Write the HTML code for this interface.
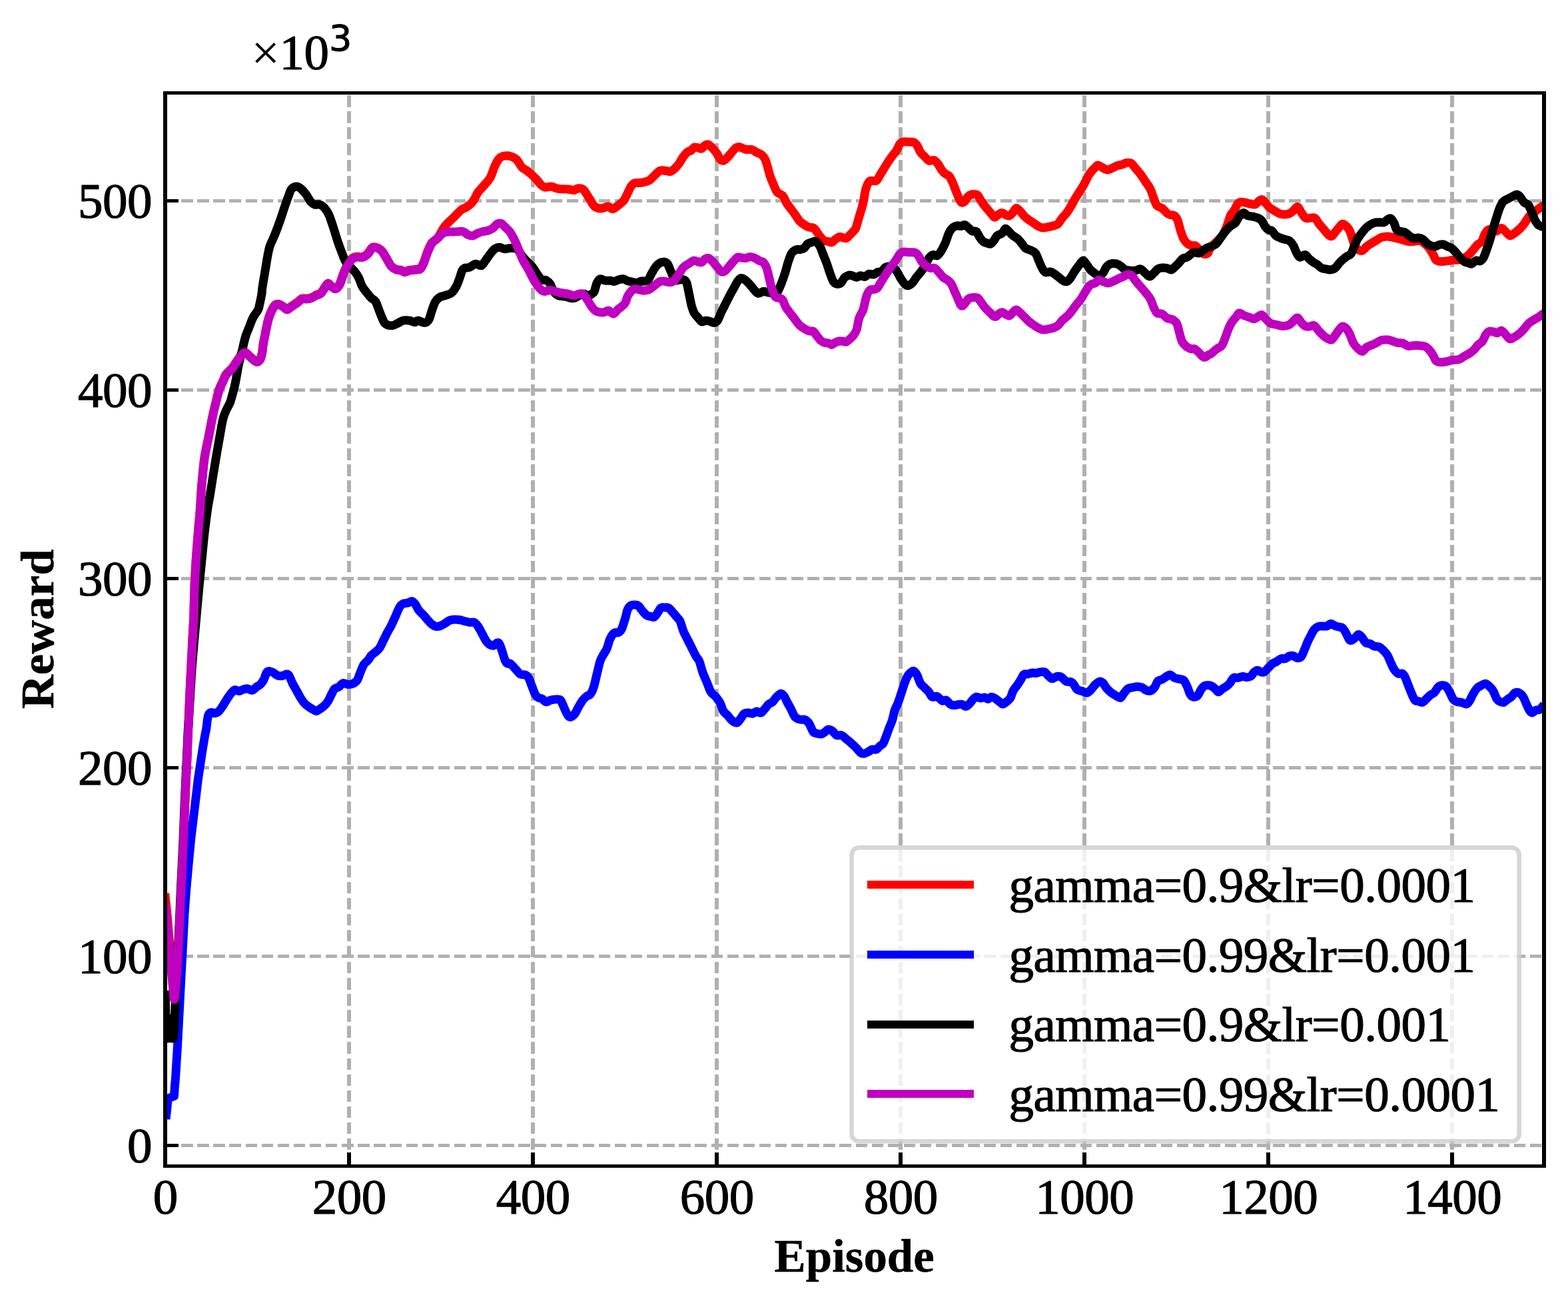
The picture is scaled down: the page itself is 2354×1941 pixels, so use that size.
<!DOCTYPE html>
<html><head><meta charset="utf-8"><title>Reward</title>
<style>html,body{margin:0;padding:0;background:#fff;overflow:hidden}svg{display:block}</style>
</head><body>
<svg width="2354" height="1941" viewBox="0 0 2354 1941">
<rect width="2354" height="1941" fill="#fff"/>
<g stroke="#b0b0b0" stroke-dasharray="17.4 6.69" fill="none" shape-rendering="crispEdges">
<g stroke-width="6">
<line x1="524" y1="1750.5" x2="524" y2="139.5"/>
<line x1="800" y1="1750.5" x2="800" y2="139.5"/>
<line x1="1076" y1="1750.5" x2="1076" y2="139.5"/>
<line x1="1352" y1="1750.5" x2="1352" y2="139.5"/>
<line x1="1628" y1="1750.5" x2="1628" y2="139.5"/>
<line x1="1904" y1="1750.5" x2="1904" y2="139.5"/>
<line x1="2180" y1="1750.5" x2="2180" y2="139.5"/>
</g><g stroke-width="5" stroke-dasharray="17.4 6.706">
<line x1="248.0" y1="1719.5" x2="2318.0" y2="1719.5"/>
<line x1="248.0" y1="1435.9" x2="2318.0" y2="1435.9"/>
<line x1="248.0" y1="1152.3" x2="2318.0" y2="1152.3"/>
<line x1="248.0" y1="868.7" x2="2318.0" y2="868.7"/>
<line x1="248.0" y1="585.1" x2="2318.0" y2="585.1"/>
<line x1="248.0" y1="301.5" x2="2318.0" y2="301.5"/>
</g></g>
<g stroke="#000" stroke-width="6" shape-rendering="crispEdges">
<line x1="248" y1="1750.5" x2="248" y2="1730"/>
<line x1="524" y1="1750.5" x2="524" y2="1730"/>
<line x1="800" y1="1750.5" x2="800" y2="1730"/>
<line x1="1076" y1="1750.5" x2="1076" y2="1730"/>
<line x1="1352" y1="1750.5" x2="1352" y2="1730"/>
<line x1="1628" y1="1750.5" x2="1628" y2="1730"/>
<line x1="1904" y1="1750.5" x2="1904" y2="1730"/>
<line x1="2180" y1="1750.5" x2="2180" y2="1730"/>
</g><g stroke="#000" stroke-width="5" shape-rendering="crispEdges">
<line x1="248.0" y1="1719.5" x2="268" y2="1719.5"/>
<line x1="248.0" y1="1435.9" x2="268" y2="1435.9"/>
<line x1="248.0" y1="1152.3" x2="268" y2="1152.3"/>
<line x1="248.0" y1="868.7" x2="268" y2="868.7"/>
<line x1="248.0" y1="585.1" x2="268" y2="585.1"/>
<line x1="248.0" y1="301.5" x2="268" y2="301.5"/>
</g>
<clipPath id="c"><rect x="248.0" y="139.5" width="2070.0" height="1611.0"/></clipPath>
<g clip-path="url(#c)" fill="none" stroke-width="13" stroke-linejoin="round" stroke-linecap="butt">
<path d="M247.6,1341L251.1,1374L253.9,1408L255.2,1421.6L259.3,1474L260.7,1492L261.4,1499.5L262.5,1497L264.4,1478L265.9,1459L267.2,1440L267.9,1425L268.6,1412L270.4,1374L272,1336L273.9,1298L275.7,1260L277.7,1209L279.4,1171L281.3,1133L282.5,1094.2L284.6,1043.2L286.5,1005.2L288.4,967.2L290.5,929.2L292,878.2L294.1,840.2L297,802.2L300.3,764.2C301.1,754.1 301,750.3 301.6,741.8C302.2,733.3 303.1,722.8 304,713.3C304.9,703.8 305.7,694.3 307.2,684.8C308.7,675.3 311,665.7 312.9,656.2C314.8,646.7 316.6,636.4 318.4,627.7C320.2,619 322,611.5 323.8,604.2C325.6,597 327.2,589.7 329.1,584.2C330.9,578.7 333.3,574.9 334.9,571.3C336.5,567.7 337.4,565 338.7,562.8C340,560.6 341.2,559.8 342.9,558C344.5,556.2 346.7,554.7 348.6,552.3C350.5,549.9 352.4,546.6 354.3,543.8C356.2,541 358.2,538.1 360,535.7C361.8,533.3 363.2,530.5 364.8,529.5C366.4,528.5 367.9,528.7 369.5,529.5C371.1,530.3 372.7,532.8 374.3,534.3C375.9,535.8 377.3,537.1 379.1,538.5C380.9,539.9 383.3,542.7 385.2,542.8C387.1,542.9 389.1,541.2 390.5,539C391.9,536.8 392.5,533.5 393.3,529.5C394.1,525.5 394.4,520 395.2,515.2C396,510.5 397.1,505.8 398.1,501C399,496.2 399.9,491.1 400.9,486.7C401.9,482.3 402.9,478.1 404.2,474.4C405.5,470.7 407,467.2 408.5,464.4C410,461.5 411.7,458.6 413.3,457.3C414.9,456 416.1,455.9 418,456.3C419.9,456.7 422.6,458.4 424.7,459.7C426.8,461 428.8,464 430.7,464.2C432.6,464.4 434.2,461.9 436.1,460.7C437.9,459.5 439.9,458.1 441.8,456.8C443.7,455.5 445.6,454.4 447.5,453C449.4,451.6 451,449 453.2,448.2C455.4,447.4 458.4,448.4 460.8,448.2C463.2,448 465.3,447.7 467.5,446.8C469.7,445.9 471.7,444.2 474.1,443C476.5,441.8 479.5,441.6 481.7,439.7C483.9,437.8 485.4,434.1 487.2,431.7C488.9,429.3 490.5,425.9 492.2,425.4C493.9,425 495.3,427.9 497.2,429.2C499.1,430.4 501.4,433.4 503.4,432.9C505.5,432.5 507.6,430.7 509.7,426.7C511.8,422.7 513.9,414.2 516,409.2C518,404.2 520.1,400.2 522.2,396.7C524.3,393.2 526.4,389.8 528.5,387.9C530.5,386.1 532,385.9 534.7,385.4C537.4,385 541.8,386.3 544.7,385.4C547.6,384.6 549.9,382.7 552.2,380.4C554.5,378.2 556.4,373.2 558.5,371.7C560.5,370.2 562.4,370.6 564.7,371.2C567,371.8 569.7,372.9 572.2,375.4C574.7,378 577.2,382.7 579.7,386.7C582.2,390.7 584.7,396.3 587.2,399.2C589.7,402.1 592.2,403.2 594.7,404.2C597.2,405.2 600.1,404.8 602.2,405.4C604.3,406.1 605.1,407.9 607.2,407.9C609.3,407.9 611.8,406.1 614.7,405.4C617.6,404.8 622,404.6 624.7,404.2C627.4,403.8 629.1,404.6 631,402.9C632.8,401.3 634.1,398.6 636,394.2C637.8,389.8 640.1,381.7 642.2,376.7C644.3,371.7 646,367.5 648.5,364.2C651,360.9 654,360.7 657.2,356.7C660.4,352.7 663.7,344.9 667.5,340C671.3,335.1 675.8,331.7 680,327.5C684.2,323.3 689.2,317.7 692.5,315C695.8,312.3 697.1,313.3 700,311.2C702.9,309.2 707.1,306.2 710,302.5C712.9,298.8 714.6,292.9 717.5,288.8C720.4,284.6 724.4,281.2 727.5,277.5C730.6,273.8 733.8,270.8 736.2,266.2C738.8,261.7 740.4,254.6 742.5,250C744.6,245.4 746.7,241.3 748.8,238.8C750.8,236.2 752.1,235.2 755,234.5C757.9,233.8 762.5,233.6 766,234.5C769.5,235.4 773.1,237.2 776,240C778.9,242.8 781,248.5 783.5,251.2C786,254 788.5,254.4 791,256.2C793.5,258.1 796,260.2 798.5,262.5C801,264.8 803.7,267.5 806,270C808.3,272.5 810.2,275.6 812.2,277.5C814.3,279.4 816,280.8 818.5,281.2C821,281.7 824.5,279.8 827.2,280C830,280.2 832.5,281.9 834.8,282.5C837,283.1 838.7,283.5 841,283.8C843.3,284 846,283.6 848.5,283.8C851,283.9 853.7,284.2 856,284.5C858.3,284.8 860.4,285.8 862.2,285.5C864.1,285.2 865.2,283.3 867.2,283C869.3,282.7 872.7,282.6 874.8,283.8C876.8,284.9 877.9,287.3 879.8,290C881.6,292.7 883.9,296.8 886,300C888.1,303.2 889.8,307.3 892.2,309.5C894.8,311.7 898.3,312.7 901,313C903.7,313.3 906.4,311.8 908.5,311.2C910.6,310.8 911.6,309.6 913.5,310C915.4,310.4 917.7,313.8 919.8,313.8C921.8,313.8 923.9,311.5 926,310C928.1,308.5 930.4,306.7 932.2,305C934.1,303.3 935.6,302.5 937.2,300C938.9,297.5 940.6,293.3 942.2,290C943.9,286.7 945.6,282.5 947.2,280C948.9,277.5 950,275.9 952.2,275C954.5,274.1 958.3,274.8 961,274.5C963.7,274.2 966,273.8 968.5,273C971,272.2 973.5,271.8 976,270C978.5,268.2 981,264.8 983.5,262.5C986,260.2 988.5,257.3 991,256.2C993.5,255.2 996,256 998.5,256.2C1001,256.5 1003.7,257.9 1006,257.5C1008.3,257.1 1010,255.8 1012.2,253.8C1014.5,251.7 1017.5,248.1 1019.8,245C1022,241.9 1023.9,237.8 1026,235C1028.1,232.2 1030.4,229.5 1032.2,228C1034.1,226.5 1035.6,227.4 1037.2,226.2C1038.9,225.1 1040.4,222 1042.2,221.2C1044.1,220.5 1046.6,221.7 1048.5,222C1050.4,222.3 1051.8,223.7 1053.5,223C1055.2,222.3 1056.8,219 1058.5,218C1060.2,217 1061.6,216.2 1063.5,217C1065.4,217.8 1067.7,220.3 1069.8,222.5C1071.8,224.7 1074.1,227.3 1076,230C1077.9,232.7 1079.3,236.9 1081,238.8C1082.7,240.6 1084.3,241.5 1086,241.2C1087.7,241 1088.9,239.6 1091,237.5C1093.1,235.4 1096.2,231.3 1098.5,228.8C1100.8,226.2 1102.9,223.4 1104.8,222C1106.6,220.6 1107.9,220.3 1109.8,220.5C1111.6,220.7 1114.1,222.3 1116,223C1117.9,223.7 1118.9,224.2 1121,224.5C1123.1,224.8 1126,223.8 1128.5,224.5C1131,225.2 1133.5,227.4 1136,228.8C1138.5,230.1 1141.4,230.8 1143.5,232.5C1145.6,234.2 1147,235.8 1148.5,238.8C1150,241.7 1151,245.8 1152.2,250C1153.5,254.2 1154.5,259.4 1156,263.8C1157.5,268.1 1159.3,272.3 1161,276.2C1162.7,280.2 1164.3,285 1166,287.5C1167.7,290 1169.3,290 1171,291.2C1172.7,292.5 1174.3,292.7 1176,295C1177.7,297.3 1178.9,301.7 1181,305C1183.1,308.3 1186.2,311.9 1188.5,315C1190.8,318.1 1192.7,320.8 1194.8,323.8C1196.8,326.7 1198.7,330.1 1201,332.5C1203.3,334.9 1206.2,336.5 1208.5,338C1210.8,339.5 1212.7,340.6 1214.8,341.2C1216.8,341.9 1219.1,341 1221,342C1222.9,343 1224.3,345.3 1226,347.5C1227.7,349.7 1229.1,352.7 1231,355C1232.9,357.3 1235.2,360 1237.2,361.2C1239.3,362.5 1241.6,362.1 1243.5,362.5C1245.4,362.9 1246.6,364.4 1248.5,363.8C1250.4,363.1 1252.7,360.1 1254.8,358.8C1256.8,357.4 1259.1,355.8 1261,355.5C1262.9,355.2 1264.3,356.7 1266,357C1267.7,357.3 1269.3,358.2 1271,357.5C1272.7,356.8 1274.3,354.2 1276,352.5C1277.7,350.8 1279.5,349.2 1281,347.5C1282.5,345.8 1283.5,345.4 1284.8,342.5C1286,339.6 1286.7,336.2 1288.5,330C1290.3,323.8 1293.9,312.5 1295.8,305C1297.6,297.5 1298,290.3 1299.5,285C1301,279.7 1302.8,275.3 1304.5,273C1306.2,270.7 1307.6,271.5 1309.5,271.2C1311.4,271 1313.7,272.9 1315.8,271.2C1317.8,269.6 1319.9,264.6 1322,261.2C1324.1,257.9 1326.2,254.6 1328.2,251.2C1330.3,247.9 1332.4,244.4 1334.5,241.2C1336.6,238.1 1338.9,235 1340.8,232.5C1342.6,230 1344.1,229 1345.8,226.2C1347.4,223.5 1349.1,218.5 1350.8,216.2C1352.4,214 1353.7,213.5 1355.8,213C1357.8,212.5 1360.5,212.9 1363.2,213C1366,213.1 1369.7,212.8 1372,213.8C1374.3,214.7 1375.3,216.2 1377,218.8C1378.7,221.2 1380.1,226 1382,228.8C1383.9,231.5 1386.2,232.9 1388.2,235C1390.3,237.1 1392.2,240.3 1394.5,241.2C1396.8,242.2 1399.7,239.7 1402,240.5C1404.3,241.3 1406.2,243.6 1408.2,246.2C1410.3,248.9 1412.6,253.8 1414.5,256.2C1416.4,258.8 1417.8,260 1419.5,261.2C1421.2,262.5 1422.8,261.9 1424.5,263.8C1426.2,265.6 1427.8,269 1429.5,272.5C1431.2,276 1432.8,280.8 1434.5,285C1436.2,289.2 1438,294.4 1439.5,297.5C1441,300.6 1441.8,302.9 1443.2,303.8C1444.7,304.6 1446.6,304 1448.2,302.5C1449.9,301 1451.6,296.8 1453.2,295C1454.9,293.2 1456,292.4 1458.2,292C1460.5,291.6 1464.7,291.2 1467,292.5C1469.3,293.8 1470.3,297.5 1472,300C1473.7,302.5 1475.1,305 1477,307.5C1478.9,310 1481.2,312.5 1483.2,315C1485.3,317.5 1487.8,320.6 1489.5,322.5C1491.2,324.4 1491.8,326.2 1493.2,326.2C1494.7,326.2 1496.4,323.6 1498.2,322.5C1500.1,321.4 1502.4,319.4 1504.5,319.5C1506.6,319.6 1508.9,322.3 1510.8,323C1512.6,323.7 1514.1,324.5 1515.8,323.8C1517.4,323 1519.1,320.6 1520.8,318.8C1522.4,316.9 1523.9,312.7 1525.8,312.5C1527.6,312.3 1529.9,315.4 1532,317.5C1534.1,319.6 1536.2,322.9 1538.2,325C1540.3,327.1 1542.2,328.3 1544.5,330C1546.8,331.7 1549.5,333.3 1552,335C1554.5,336.7 1557.2,338.8 1559.5,340C1561.8,341.2 1563.2,341.9 1565.8,342C1568.2,342.1 1571.8,341 1574.5,340.5C1577.2,340 1579.7,339.5 1582,338.8C1584.3,338 1586.2,338.1 1588.2,336.2C1590.3,334.4 1592.2,330.4 1594.5,327.5C1596.8,324.6 1599.7,321.9 1602,318.8C1604.3,315.6 1606.2,312.3 1608.2,308.8C1610.3,305.2 1612.4,301 1614.5,297.5C1616.6,294 1618.7,290.8 1620.8,287.5C1622.8,284.2 1624.9,281.2 1627,277.5C1629.1,273.8 1631.2,268.5 1633.2,265C1635.3,261.5 1637.6,258.5 1639.5,256.2C1641.4,254 1643,252.6 1644.5,251.2C1646,249.9 1646.6,248 1648.2,248C1649.9,248 1652.2,250.1 1654.5,251.2C1656.8,252.4 1659.5,254.8 1662,255C1664.5,255.2 1667,253.5 1669.5,252.5C1672,251.5 1674.5,249.7 1677,248.8C1679.5,247.8 1682.2,247.7 1684.5,247C1686.8,246.3 1688.5,244.8 1690.8,244.5C1693,244.2 1696,243.7 1698.2,245C1700.5,246.3 1702.2,249.8 1704.5,252.5C1706.8,255.2 1709.5,257.9 1712,261.2C1714.5,264.6 1717,268.8 1719.5,272.5C1722,276.2 1724.9,279.6 1727,283.8C1729.1,287.9 1730.3,293.3 1732,297.5C1733.7,301.7 1734.9,306.2 1737,308.8C1739.1,311.2 1742,310.6 1744.5,312.5C1747,314.4 1749.9,318.3 1752,320C1754.1,321.7 1755.1,321.9 1757,322.5C1758.9,323.1 1761.4,322.3 1763.2,323.8C1765.1,325.2 1766.8,327.7 1768.2,331.2C1769.7,334.8 1770.5,340.4 1772,345C1773.5,349.6 1775.1,355.2 1777,358.8C1778.9,362.3 1781.2,364.6 1783.2,366.2C1785.3,367.9 1787.6,368.3 1789.5,368.8C1791.4,369.2 1792.6,367.7 1794.5,368.8C1796.4,369.8 1798.7,372.9 1800.8,375C1802.8,377.1 1804.9,380.4 1807,381.2C1809.1,382.1 1811.8,381.2 1813.2,380C1814.8,378.8 1814.3,376.4 1816,374C1817.7,371.6 1821.2,367.9 1823.5,365.5C1825.8,363.1 1827.7,361.8 1829.8,359.5C1831.8,357.2 1833.9,355.5 1836,352C1838.1,348.5 1840.4,343.2 1842.2,338.5C1844.1,333.8 1845.5,327.3 1847.2,323.5C1849,319.7 1851,318.7 1853,315.5C1855,312.3 1857,306.5 1859.5,304.5C1862,302.5 1865.3,303.5 1868,303.8C1870.7,304 1872.8,305.2 1875.5,305.8C1878.2,306.3 1882,307.5 1884.2,307C1886.5,306.5 1887.6,303.8 1889.2,302.5C1890.9,301.2 1892.6,299.3 1894.2,299.5C1895.9,299.7 1897.4,301.8 1899.2,303.8C1901.1,305.7 1903.2,309.2 1905.5,311.2C1907.8,313.3 1910.5,314.7 1913,316.2C1915.5,317.8 1918,319.5 1920.5,320.5C1923,321.5 1925.5,322 1928,322C1930.5,322 1933.2,321.7 1935.5,320.8C1937.8,319.8 1939.7,318 1941.8,316.2C1943.8,314.5 1945.9,309.9 1948,310.5C1950.1,311.1 1952.2,317.2 1954.2,320C1956.3,322.8 1958.2,326.3 1960.5,327.5C1962.8,328.7 1965.7,327 1968,327C1970.3,327 1972.2,326 1974.2,327.5C1976.3,329 1978.2,333.3 1980.5,336.2C1982.8,339.2 1985.7,342.3 1988,345C1990.3,347.7 1992.4,350.9 1994.2,352.5C1996.1,354.1 1997.6,355.1 1999.2,354.5C2000.9,353.9 2002.4,351 2004.2,348.8C2006.1,346.5 2008.6,343.3 2010.5,341.2C2012.4,339.2 2013.6,336.5 2015.5,336.2C2017.4,336 2019.9,338.1 2021.8,340C2023.6,341.9 2025.3,344.4 2026.8,347.5C2028.2,350.6 2029.2,355 2030.5,358.8C2031.8,362.5 2032.8,367.3 2034.2,370C2035.7,372.7 2037.4,374 2039.2,375C2041.1,376 2043.4,377.1 2045.5,376.2C2047.6,375.4 2049.5,371.9 2051.8,370C2054,368.1 2056.8,366.6 2059.2,365C2061.8,363.4 2064.2,362 2066.8,360.5C2069.2,359 2071.5,357.2 2074.2,356.2C2077,355.3 2080.3,355 2083,355C2085.7,355 2088,355.8 2090.5,356.2C2093,356.8 2095.5,357.4 2098,358C2100.5,358.6 2102.8,359.2 2105.5,360C2108.2,360.8 2111.5,362.1 2114.2,362.5C2117,362.9 2119,362.7 2121.8,362.5C2124.5,362.3 2127.8,360.8 2130.5,361.2C2133.2,361.7 2135.5,363.1 2138,365C2140.5,366.9 2143.2,369.6 2145.5,372.5C2147.8,375.4 2150.1,379.6 2151.8,382.5C2153.4,385.4 2153.8,388.3 2155.5,390C2157.2,391.7 2159.2,392.2 2161.8,392.5C2164.2,392.8 2167.4,392.3 2170.5,392C2173.6,391.7 2177.2,390.8 2180.5,390.5C2183.8,390.2 2187.6,390.5 2190.5,390C2193.4,389.5 2195.5,388.8 2198,387.5C2200.5,386.2 2203.2,384.1 2205.5,382C2207.8,379.9 2209.7,377.4 2211.8,375C2213.8,372.6 2215.9,369.6 2218,367.5C2220.1,365.4 2222.4,365.2 2224.2,362.5C2226.1,359.8 2227.6,354.2 2229.2,351.2C2230.9,348.3 2232.4,346 2234.2,345C2236.1,344 2238.4,344.7 2240.5,345C2242.6,345.3 2244.5,347.4 2246.8,347C2249,346.6 2252,342.3 2254.2,342.5C2256.5,342.7 2258.4,346.1 2260.5,348C2262.6,349.9 2264.7,353.3 2266.8,353.8C2268.8,354.2 2270.7,352 2273,350.5C2275.3,349 2278,346.9 2280.5,344.5C2283,342.1 2285.5,339.5 2288,336.2C2290.5,333 2293,327.9 2295.5,325C2298,322.1 2300.5,320.8 2303,318.8C2305.5,316.8 2308,314.9 2310.5,313C2313,311.1 2316.8,308.4 2318,307.5" stroke="#ff0000"/>
<path d="M249,1680L251,1662L252.2,1649L261.5,1645.5L262.3,1631L263.4,1620L266.5,1570.4L268.1,1540L272.7,1452L274.2,1425L276.8,1374L279.6,1336L283,1298L286.6,1260L292.7,1209L297.2,1171L302.9,1133C304.6,1122 306.4,1111.3 307.5,1105C308.6,1098.7 309,1098.8 309.6,1095C310.2,1091.2 310.6,1085.7 311.2,1082C311.8,1078.3 312.1,1074.7 313.2,1072.6C314.2,1070.5 315.9,1069.8 317.5,1069.5C319.1,1069.2 320.8,1071 322.7,1070.7C324.6,1070.4 326.7,1069.5 328.8,1067.5C330.8,1065.5 332.9,1061.9 335,1058.8C337.1,1055.6 339.2,1051.9 341.2,1048.8C343.3,1045.6 345.6,1042.2 347.5,1040C349.4,1037.8 350.6,1035.9 352.5,1035.5C354.4,1035.1 356.7,1037.6 358.8,1037.5C360.8,1037.4 362.9,1035.6 365,1035C367.1,1034.4 369,1033.5 371.2,1033.8C373.5,1034 376.5,1036.7 378.8,1036.2C381,1035.8 382.9,1032.8 385,1031.2C387.1,1029.7 389.4,1028.9 391.2,1027C393.1,1025.1 394.8,1022.8 396.2,1020C397.7,1017.2 398.8,1012.1 400,1010C401.2,1007.9 402.1,1007.6 403.8,1007.5C405.4,1007.4 407.9,1008.5 410,1009.5C412.1,1010.5 414,1012.9 416.2,1013.8C418.5,1014.6 421.5,1014.8 423.8,1014.5C426,1014.2 428.3,1012.1 430,1012C431.7,1011.9 432.3,1011.6 433.8,1013.8C435.2,1015.9 436.9,1021.2 438.8,1025C440.6,1028.8 442.9,1032.5 445,1036.2C447.1,1040 449.2,1044.2 451.2,1047.5C453.3,1050.8 455.4,1054 457.5,1056.2C459.6,1058.5 461.7,1059.8 463.8,1061.2C465.8,1062.7 468.1,1064 470,1065C471.9,1066 473.1,1067.7 475,1067.5C476.9,1067.3 479.2,1065.2 481.2,1063.8C483.3,1062.3 485.6,1060.6 487.5,1058.8C489.4,1056.9 490.8,1055.2 492.5,1052.5C494.2,1049.8 495.8,1045.6 497.5,1042.5C499.2,1039.4 500.6,1035.6 502.5,1033.8C504.4,1031.9 506.7,1032.6 508.8,1031.2C510.8,1029.9 512.7,1026.1 515,1025.5C517.3,1024.9 520,1027.4 522.5,1027.5C525,1027.6 527.7,1027.3 530,1026.2C532.3,1025.2 534.4,1024.2 536.2,1021.2C538.1,1018.3 539.6,1012.7 541.2,1008.8C542.9,1004.8 544.4,1000.4 546.2,997.5C548.1,994.6 550.6,993.5 552.5,991.2C554.4,989 555.6,985.8 557.5,983.8C559.4,981.7 561.7,980.6 563.8,978.8C565.8,976.9 568.1,975.2 570,972.5C571.9,969.8 573.1,966.2 575,962.5C576.9,958.8 579.2,954 581.2,950C583.3,946 585.4,942.9 587.5,938.8C589.6,934.6 591.7,929.6 593.8,925C595.8,920.4 598.1,914.4 600,911.2C601.9,908.1 602.9,907.3 605,906.2C607.1,905.2 610.2,905.6 612.5,905C614.8,904.4 616.9,902.1 618.8,902.5C620.6,902.9 622.1,905.2 623.8,907.5C625.4,909.8 626.7,913.5 628.8,916.2C630.8,919 634,921.2 636.2,923.8C638.5,926.2 640.4,929 642.5,931.2C644.6,933.5 646.7,936 648.8,937.5C650.8,939 652.9,940.2 655,940.5C657.1,940.8 659.2,940.2 661.2,939.5C663.3,938.8 665.2,937.6 667.5,936.2C669.8,934.9 672.5,932.3 675,931.2C677.5,930.2 680,930.1 682.5,930C685,929.9 687.5,930.1 690,930.5C692.5,930.9 695,931.9 697.5,932.5C700,933.1 702.5,933.9 705,934.2C707.5,934.6 710.4,933.5 712.5,934.5C714.6,935.5 715.6,937.2 717.5,940C719.4,942.8 721.7,947.5 723.8,951.2C725.8,955 728.1,959.8 730,962.5C731.9,965.2 733.1,966.4 735,967.5C736.9,968.6 739.4,969.7 741.2,969.2C743.1,968.8 744.8,965.4 746.2,965C747.7,964.6 748.8,964.9 750,967C751.2,969.1 752.3,973.2 753.8,977.5C755.2,981.8 757.3,989.4 758.8,992.5C760.2,995.6 761.3,995.6 762.5,996.2C763.7,996.9 764.2,995 766,996.2C767.8,997.5 771,1001.1 773.5,1003.8C776,1006.4 778.5,1010.5 781,1012C783.5,1013.5 786.4,1012.1 788.5,1013C790.6,1013.9 791.8,1014.7 793.5,1017.5C795.2,1020.3 796.8,1025.8 798.5,1030C800.2,1034.2 801.8,1039.6 803.5,1042.5C805.2,1045.4 806.8,1046.5 808.5,1047.5C810.2,1048.5 811.6,1047.7 813.5,1048.8C815.4,1049.8 817.7,1053.3 819.8,1053.8C821.8,1054.2 823.9,1051.9 826,1051.2C828.1,1050.6 829.8,1050.1 832.2,1050C834.8,1049.9 838.9,1049.2 841,1050.5C843.1,1051.8 843.3,1054.5 844.8,1057.5C846.2,1060.5 848.1,1065.6 849.8,1068.8C851.4,1071.9 852.7,1075.6 854.8,1076.2C856.8,1076.9 860,1075 862.2,1072.5C864.5,1070 866.4,1064.8 868.5,1061.2C870.6,1057.7 872.7,1054 874.8,1051.2C876.8,1048.5 879.1,1046.5 881,1045C882.9,1043.5 884.3,1044.6 886,1042.5C887.7,1040.4 889.3,1037.5 891,1032.5C892.7,1027.5 894.3,1019.2 896,1012.5C897.7,1005.8 899.3,997.5 901,992.5C902.7,987.5 904.3,985.6 906,982.5C907.7,979.4 909.3,977.7 911,973.8C912.7,969.8 914.1,962.7 916,958.8C917.9,954.8 920.2,951.5 922.2,950C924.3,948.5 926.6,950.5 928.5,949.5C930.4,948.5 931.8,947.2 933.5,943.8C935.2,940.3 937,933.5 938.5,928.8C940,924 940.8,918.3 942.2,915C943.7,911.7 945.4,909.9 947.2,908.8C949.1,907.6 951.6,907.9 953.5,908C955.4,908.1 956.6,907.9 958.5,909.5C960.4,911.1 962.7,915.1 964.8,917.5C966.8,919.9 968.9,922.4 971,923.8C973.1,925.1 975.4,925.1 977.2,925.5C979.1,925.9 980.6,927.2 982.2,926.2C983.9,925.3 985.6,922.3 987.2,920C988.9,917.7 990.4,913.8 992.2,912.5C994.1,911.2 996.6,912 998.5,912C1000.4,912 1001.6,911.4 1003.5,912.5C1005.4,913.6 1007.7,916.5 1009.8,918.8C1011.8,921 1014.1,924 1016,926.2C1017.9,928.5 1019.3,929 1021,932.5C1022.7,936 1024.1,942.9 1026,947.5C1027.9,952.1 1030.2,955.8 1032.2,960C1034.3,964.2 1036.4,968.3 1038.5,972.5C1040.6,976.7 1042.9,981.7 1044.8,985C1046.6,988.3 1048.1,988.5 1049.8,992.5C1051.4,996.5 1052.9,1003.5 1054.8,1008.8C1056.6,1014 1058.9,1018.8 1061,1023.8C1063.1,1028.8 1065,1035 1067.2,1038.8C1069.5,1042.5 1072.5,1043.5 1074.8,1046.2C1077,1049 1079.1,1051.5 1081,1055C1082.9,1058.5 1084.1,1064.4 1086,1067.5C1087.9,1070.6 1090.2,1071.5 1092.2,1073.8C1094.3,1076 1096.2,1079.4 1098.5,1081.2C1100.8,1083.1 1103.9,1085.2 1106,1085C1108.1,1084.8 1109.1,1082.3 1111,1080C1112.9,1077.7 1115.2,1072.9 1117.2,1071.2C1119.3,1069.6 1121.4,1070 1123.5,1070C1125.6,1070 1127.7,1071.6 1129.8,1071.2C1131.8,1070.9 1133.9,1068.2 1136,1068C1138.1,1067.8 1140.2,1070.7 1142.2,1070C1144.3,1069.3 1146.6,1065.8 1148.5,1063.8C1150.4,1061.7 1151.6,1059.2 1153.5,1057.5C1155.4,1055.8 1157.7,1055.6 1159.8,1053.8C1161.8,1051.9 1163.9,1048.3 1166,1046.2C1168.1,1044.2 1170.4,1041.5 1172.2,1041.2C1174.1,1041 1175.6,1042.7 1177.2,1045C1178.9,1047.3 1180.6,1051.9 1182.2,1055C1183.9,1058.1 1185.4,1060.2 1187.2,1063.8C1189.1,1067.3 1191.2,1073.5 1193.5,1076.2C1195.8,1079 1198.5,1079.3 1201,1080C1203.5,1080.7 1206.2,1079.5 1208.5,1080.5C1210.8,1081.5 1212.7,1083.2 1214.8,1086.2C1216.8,1089.3 1218.9,1096.2 1221,1098.8C1223.1,1101.2 1225.2,1100.7 1227.2,1101.2C1229.3,1101.8 1231.6,1102.4 1233.5,1102C1235.4,1101.6 1236.8,1099.9 1238.5,1098.8C1240.2,1097.6 1241.6,1095.2 1243.5,1095C1245.4,1094.8 1247.7,1096 1249.8,1097.5C1251.8,1099 1253.7,1102.7 1256,1103.8C1258.3,1104.8 1261.2,1102.9 1263.5,1103.8C1265.8,1104.6 1267.5,1106.9 1269.8,1108.8C1272,1110.6 1274.8,1112.8 1277.2,1115C1279.8,1117.2 1282.3,1119.5 1284.8,1122C1287.2,1124.5 1290,1128.5 1292,1130C1294,1131.5 1295.1,1131.5 1297,1131.2C1298.9,1131 1301.2,1129.8 1303.2,1128.8C1305.3,1127.7 1307.4,1125.6 1309.5,1125C1311.6,1124.4 1313.9,1125.8 1315.8,1125C1317.6,1124.2 1319.1,1121.5 1320.8,1120C1322.4,1118.5 1324.3,1118.3 1325.8,1116.2C1327.2,1114.2 1328,1111.2 1329.5,1107.5C1331,1103.8 1332.8,1098.1 1334.5,1093.8C1336.2,1089.4 1338,1085.8 1339.5,1081.2C1341,1076.7 1341.8,1070.6 1343.2,1066.2C1344.7,1061.9 1346.6,1059.4 1348.2,1055C1349.9,1050.6 1351.6,1045 1353.2,1040C1354.9,1035 1356.6,1029.4 1358.2,1025C1359.9,1020.6 1361.6,1016.5 1363.2,1013.8C1364.9,1011 1366.8,1009.8 1368.2,1008.8C1369.7,1007.7 1370.5,1006.7 1372,1007.5C1373.5,1008.3 1375.3,1010.6 1377,1013.8C1378.7,1016.9 1380.1,1023.1 1382,1026.2C1383.9,1029.4 1386.2,1030.4 1388.2,1032.5C1390.3,1034.6 1392.6,1036.5 1394.5,1038.8C1396.4,1041 1397.4,1045.1 1399.5,1046.2C1401.6,1047.4 1404.5,1044.5 1407,1045.5C1409.5,1046.5 1412.2,1051 1414.5,1052C1416.8,1053 1418.7,1050.3 1420.8,1051.2C1422.8,1052.2 1424.9,1056.2 1427,1057.5C1429.1,1058.8 1431.2,1058.8 1433.2,1058.8C1435.3,1058.8 1437.6,1057.7 1439.5,1057.5C1441.4,1057.3 1442.8,1057 1444.5,1057.5C1446.2,1058 1447.8,1060.5 1449.5,1060.5C1451.2,1060.5 1452.6,1059.2 1454.5,1057.5C1456.4,1055.8 1458.9,1051.9 1460.8,1050C1462.6,1048.1 1463.9,1046.6 1465.8,1046.2C1467.6,1045.9 1469.9,1047.9 1472,1048C1474.1,1048.1 1476.4,1046.8 1478.2,1047C1480.1,1047.2 1481.6,1049.6 1483.2,1049.5C1484.9,1049.4 1486.4,1046.4 1488.2,1046.2C1490.1,1046.1 1492.4,1047.5 1494.5,1048.8C1496.6,1050 1498.9,1052.4 1500.8,1053.8C1502.6,1055.1 1504.1,1057 1505.8,1057C1507.4,1057 1508.9,1055.3 1510.8,1053.8C1512.6,1052.2 1515.3,1050.2 1517,1047.5C1518.7,1044.8 1519.1,1040.6 1520.8,1037.5C1522.4,1034.4 1525.1,1031.5 1527,1028.8C1528.9,1026 1530.3,1024 1532,1021.2C1533.7,1018.5 1535.1,1014 1537,1012.5C1538.9,1011 1541.2,1012.4 1543.2,1012C1545.3,1011.6 1547.4,1010.2 1549.5,1010C1551.6,1009.8 1553.7,1010.7 1555.8,1010.5C1557.8,1010.3 1559.9,1009 1562,1008.8C1564.1,1008.5 1566.4,1007.9 1568.2,1008.8C1570.1,1009.6 1571.4,1012.1 1573.2,1013.8C1575.1,1015.4 1577.2,1018.5 1579.5,1018.8C1581.8,1019 1584.7,1015.9 1587,1015.5C1589.3,1015.1 1591,1015 1593.2,1016.2C1595.5,1017.5 1598.2,1021.8 1600.8,1023C1603.2,1024.2 1606.4,1023 1608.2,1023.8C1610.1,1024.5 1610.5,1025.6 1612,1027.5C1613.5,1029.4 1614.9,1033.3 1617,1035C1619.1,1036.7 1622,1036.7 1624.5,1037.5C1627,1038.3 1629.7,1040.4 1632,1040C1634.3,1039.6 1636.2,1037.1 1638.2,1035C1640.3,1032.9 1642.4,1029.5 1644.5,1027.5C1646.6,1025.5 1648.9,1023.7 1650.8,1023.2C1652.6,1022.8 1654.1,1023.5 1655.8,1025C1657.4,1026.5 1658.9,1030.2 1660.8,1032.5C1662.6,1034.8 1664.7,1036.9 1667,1038.8C1669.3,1040.6 1672,1042.3 1674.5,1043.8C1677,1045.2 1679.9,1047.9 1682,1047.5C1684.1,1047.1 1685.1,1043.5 1687,1041.2C1688.9,1039 1691,1035.3 1693.2,1033.8C1695.5,1032.2 1698.5,1032.5 1700.8,1032C1703,1031.5 1704.7,1030.8 1707,1030.8C1709.3,1030.8 1712.2,1031.1 1714.5,1032C1716.8,1032.9 1718.7,1035.4 1720.8,1036.2C1722.8,1037.1 1724.9,1037.7 1727,1037C1729.1,1036.3 1731.4,1034.4 1733.2,1032C1735.1,1029.6 1736.4,1024.5 1738.2,1022.5C1740.1,1020.5 1742.2,1021.2 1744.5,1020C1746.8,1018.8 1749.9,1016.2 1752,1015C1754.1,1013.8 1755.1,1012.6 1757,1013C1758.9,1013.4 1761,1016.4 1763.2,1017.5C1765.5,1018.6 1768.5,1018.9 1770.8,1019.5C1773,1020.1 1775.1,1019.5 1777,1021.2C1778.9,1023 1780.3,1026.5 1782,1030C1783.7,1033.5 1785.3,1039.8 1787,1042.5C1788.7,1045.2 1790.1,1046 1792,1046.2C1793.9,1046.5 1796.4,1045.6 1798.2,1043.8C1800.1,1041.9 1801.6,1037.4 1803.2,1035C1804.9,1032.6 1806.6,1030.5 1808.2,1029.5C1809.9,1028.5 1811.6,1028.8 1813.2,1028.8C1814.9,1028.8 1816.2,1028.7 1818,1029.5C1819.8,1030.3 1822.4,1032.2 1824.2,1033.8C1826.1,1035.3 1827.4,1038.8 1829.2,1038.8C1831.1,1038.8 1833.4,1035.2 1835.5,1033.8C1837.6,1032.3 1839.9,1031.5 1841.8,1030C1843.6,1028.5 1845.1,1027.1 1846.8,1025C1848.4,1022.9 1849.9,1018.8 1851.8,1017.5C1853.6,1016.2 1855.7,1017.8 1858,1017.5C1860.3,1017.2 1863.2,1015.6 1865.5,1015.5C1867.8,1015.4 1869.7,1016.8 1871.8,1016.8C1873.8,1016.7 1876.1,1016.3 1878,1015C1879.9,1013.7 1881.3,1010.2 1883,1008.8C1884.7,1007.3 1886.3,1006.2 1888,1006.2C1889.7,1006.2 1891.3,1008.3 1893,1008.8C1894.7,1009.2 1896.1,1009.8 1898,1008.8C1899.9,1007.7 1902.2,1004.6 1904.2,1002.5C1906.3,1000.4 1908.4,997.8 1910.5,996.2C1912.6,994.7 1914.7,994.2 1916.8,993C1918.8,991.8 1920.9,989.5 1923,988.8C1925.1,988 1927.2,989.4 1929.2,988.8C1931.3,988.1 1933.4,985.7 1935.5,985C1937.6,984.3 1939.9,984.1 1941.8,984.5C1943.6,984.9 1944.9,987.2 1946.8,987.5C1948.6,987.8 1951.1,988.1 1953,986.2C1954.9,984.4 1956.3,980 1958,976.2C1959.7,972.5 1961.3,967.5 1963,963.8C1964.7,960 1966.3,956.9 1968,953.8C1969.7,950.6 1971.1,947.2 1973,945C1974.9,942.8 1977.2,941.3 1979.2,940.5C1981.3,939.7 1983.4,940.1 1985.5,940C1987.6,939.9 1989.7,940.6 1991.8,940C1993.8,939.4 1995.9,936.3 1998,936.2C2000.1,936.2 2002.2,938.7 2004.2,939.5C2006.3,940.3 2008.6,940.8 2010.5,941.2C2012.4,941.8 2013.8,941 2015.5,942.5C2017.2,944 2018.8,947.1 2020.5,950C2022.2,952.9 2024,958.1 2025.5,960C2027,961.9 2027.8,961.7 2029.2,961.2C2030.7,960.8 2032.6,959 2034.2,957.5C2035.9,956 2037.6,952.7 2039.2,952.5C2040.9,952.3 2042.4,954.2 2044.2,956.2C2046.1,958.3 2048.4,963.3 2050.5,965C2052.6,966.7 2054.7,965.4 2056.8,966.2C2058.8,967.1 2060.7,969.2 2063,970C2065.3,970.8 2068.2,970.2 2070.5,971.2C2072.8,972.3 2074.7,974.2 2076.8,976.2C2078.8,978.3 2081.1,980.6 2083,983.8C2084.9,986.9 2086.3,991.5 2088,995C2089.7,998.5 2091.1,1002.3 2093,1005C2094.9,1007.7 2097.2,1010.2 2099.2,1011.2C2101.3,1012.3 2103.8,1010.4 2105.5,1011.2C2107.2,1012.1 2107.8,1013.3 2109.2,1016.2C2110.7,1019.2 2112.6,1024.6 2114.2,1028.8C2115.9,1032.9 2117.6,1037.5 2119.2,1041.2C2120.9,1045 2122.6,1049.4 2124.2,1051.2C2125.9,1053.1 2127.4,1052 2129.2,1052.5C2131.1,1053 2133.6,1054.9 2135.5,1054.5C2137.4,1054.1 2138.6,1051.8 2140.5,1050C2142.4,1048.2 2144.7,1045.4 2146.8,1043.8C2148.8,1042.1 2150.9,1042.1 2153,1040C2155.1,1037.9 2157.2,1033.1 2159.2,1031.2C2161.3,1029.4 2163.4,1028.8 2165.5,1028.8C2167.6,1028.8 2169.9,1029.4 2171.8,1031.2C2173.6,1033.1 2175.1,1036.9 2176.8,1040C2178.4,1043.1 2180.1,1047.8 2181.8,1050C2183.4,1052.2 2184.7,1052.5 2186.8,1053.2C2188.8,1054 2191.8,1053.9 2194.2,1054.5C2196.8,1055.1 2199.7,1057.5 2201.8,1057C2203.8,1056.5 2205.1,1053.9 2206.8,1051.2C2208.4,1048.6 2209.9,1044.4 2211.8,1041.2C2213.6,1038.1 2215.9,1034.6 2218,1032.5C2220.1,1030.4 2222.2,1029.8 2224.2,1028.8C2226.3,1027.7 2228.4,1025.8 2230.5,1026.2C2232.6,1026.7 2234.9,1029.4 2236.8,1031.2C2238.6,1033.1 2240.1,1034.6 2241.8,1037.5C2243.4,1040.4 2245.3,1046.2 2246.8,1048.8C2248.2,1051.2 2248.8,1051.5 2250.5,1052.5C2252.2,1053.5 2254.7,1054.9 2256.8,1054.5C2258.8,1054.1 2260.9,1051.5 2263,1050C2265.1,1048.5 2267.4,1047.4 2269.2,1045.8C2271.1,1044.1 2272.4,1041 2274.2,1040C2276.1,1039 2278.4,1039 2280.5,1040C2282.6,1041 2284.9,1043.3 2286.8,1046.2C2288.6,1049.2 2290.1,1054 2291.8,1057.5C2293.4,1061 2295.3,1065.4 2296.8,1067.5C2298.2,1069.6 2299,1070.2 2300.5,1070C2302,1069.8 2303.6,1067.1 2305.5,1066.2C2307.4,1065.4 2309.7,1066.5 2311.8,1065C2313.8,1063.5 2317,1058.8 2318,1057.5" stroke="#0000ff"/>
<path d="M248,1487L249,1530L249.6,1558L251.5,1559L253.3,1542L254.8,1529L256.5,1545L258.3,1559L260.3,1558.5L261.2,1550L261.8,1538.9L262.8,1516L263.5,1497.8L264.7,1478L265.8,1459L267.3,1440L267.2,1425L267.9,1412L269.7,1374L271.3,1336L273.2,1298L275,1260L277,1209L278.7,1171L280.6,1133L282.3,1095L283.1,1087L285.6,1044L287.9,1006L291,968L294.5,930L299.1,879L302.9,841C304.2,828.3 305.3,815.7 306.7,803C308.1,790.3 310.1,775.1 311.5,765C312.9,754.9 314,751.1 315.4,742.6C316.8,734.1 318.4,723.6 319.9,714.1C321.4,704.6 323,695.1 324.6,685.6C326.2,676.1 327.9,666.5 329.6,657C331.3,647.5 333.1,635.6 334.9,628.5C336.7,621.4 338.6,618.2 340.3,614.3C342,610.4 343.7,608.4 345.1,605C346.5,601.6 347.5,597.6 348.5,594C349.5,590.4 350.5,586.8 351.3,583.5C352.1,580.2 352.8,577.5 353.5,574C354.2,570.5 354.9,566.4 355.6,562.6C356.3,558.8 356.8,554.8 357.5,551.2C358.2,547.6 359.1,544.1 359.9,540.8C360.7,537.5 361.4,534.3 362.2,531.3C362.9,528.3 363.7,525.6 364.4,522.7C365.1,519.8 365.5,517.3 366.3,514.1C367.1,510.9 368.1,506.9 369.1,503.7C370.1,500.5 371.5,497.6 372.5,495.1C373.5,492.6 374.2,490.8 375.1,488.5C376,486.2 376.9,483.5 377.9,481.3C378.8,479.1 379.7,477.2 380.8,475.2C381.9,473.2 383.4,471.3 384.6,469.5C385.8,467.7 387,466.3 387.9,464.2C388.8,462.1 389.2,459.2 389.8,456.6C390.4,454 390.9,451.4 391.5,448.6C392.1,445.8 392.7,442.7 393.1,440C393.5,437.3 393,437.5 393.8,432.5C394.5,427.5 396.2,417.5 397.5,410C398.8,402.5 400,394.2 401.2,387.5C402.5,380.8 403.1,375.8 405,370C406.9,364.2 410,358.8 412.5,352.5C415,346.2 417.5,339.6 420,332.5C422.5,325.4 425.2,316.7 427.5,310C429.8,303.3 432.1,296.9 433.8,292.5C435.4,288.1 435.6,285.8 437.5,283.8C439.4,281.7 442.5,280 445,280C447.5,280 450,281.7 452.5,283.8C455,285.8 457.7,289.4 460,292.5C462.3,295.6 464.2,300.1 466.2,302.5C468.3,304.9 470.2,306.2 472.5,307C474.8,307.8 477.5,306.1 480,307C482.5,307.9 485.2,309.9 487.5,312.5C489.8,315.1 491.7,317.9 493.8,322.5C495.8,327.1 497.9,333.8 500,340C502.1,346.2 504.2,353.8 506.2,360C508.3,366.2 510.4,372.1 512.5,377.5C514.6,382.9 516.7,388.8 518.8,392.5C520.8,396.2 522.7,397.5 525,400C527.3,402.5 530.2,404.6 532.5,407.5C534.8,410.4 536.9,413.8 538.8,417.5C540.6,421.2 541.7,426.2 543.8,430C545.8,433.8 549,437.1 551.2,440C553.5,442.9 555.4,445.4 557.5,447.5C559.6,449.6 561.9,449.6 563.8,452.5C565.6,455.4 567.1,460.8 568.8,465C570.4,469.2 572.1,474 573.8,477.5C575.4,481 576.2,484.4 578.8,486.2C581.2,488.1 585.6,489 588.8,488.8C591.9,488.5 594.8,486.2 597.5,485C600.2,483.8 602.1,481.9 605,481.2C607.9,480.6 612.1,480.8 615,481.2C617.9,481.7 620.4,483.8 622.5,483.8C624.6,483.8 625,481.1 627.5,481.2C630,481.4 634.8,484.7 637.5,484.5C640.2,484.3 641.9,483.2 643.8,480C645.6,476.8 647.1,469.6 648.8,465C650.4,460.4 651.9,455.6 653.8,452.5C655.6,449.4 657.7,447.7 660,446.2C662.3,444.8 664.6,444.8 667.5,443.8C670.4,442.7 674.6,442.3 677.5,440C680.4,437.7 682.9,433.8 685,430C687.1,426.2 688.5,421.5 690,417.5C691.5,413.5 692.5,408.8 693.8,406.2C695,403.8 695.6,403.3 697.5,402.5C699.4,401.7 702.3,402.3 705,401.2C707.7,400.2 710.8,396.7 713.8,396.2C716.7,395.8 720,399.6 722.5,398.8C725,397.9 726.7,394 728.8,391.2C730.8,388.5 732.7,385.4 735,382.5C737.3,379.6 740,375.6 742.5,373.8C745,371.9 747.5,371.2 750,371.2C752.5,371.2 754.8,373.5 757.5,373.8C760.2,374 762.9,372.5 766,372.5C769.1,372.5 773.1,371.9 776,373.8C778.9,375.6 781,380.6 783.5,383.8C786,386.9 788.3,389.6 791,392.5C793.7,395.4 797,397.9 799.8,401.2C802.5,404.6 805,409.4 807.2,412.5C809.5,415.6 811.4,418.7 813.5,420C815.6,421.3 817.7,419.5 819.8,420.5C821.8,421.5 824.1,423.4 826,426.2C827.9,429.1 828.9,434.6 831,437.5C833.1,440.4 835.6,442.5 838.5,443.8C841.4,445 845.4,444.4 848.5,445C851.6,445.6 854.8,447.2 857.2,447.5C859.8,447.8 861.2,447.8 863.5,447C865.8,446.2 868.7,443.5 871,442.5C873.3,441.5 875.2,441 877.2,441.2C879.3,441.5 881.6,443.8 883.5,443.8C885.4,443.8 887,442.3 888.5,441.2C890,440.2 891,440.2 892.2,437.5C893.5,434.8 894.5,428.1 896,425C897.5,421.9 898.9,419.4 901,418.8C903.1,418.1 906,420.8 908.5,421.2C911,421.7 913.7,421 916,421.2C918.3,421.5 920.2,422.7 922.2,422.5C924.3,422.3 926.2,420.6 928.5,420C930.8,419.4 933.9,418.5 936,418.8C938.1,419 938.9,420.5 941,421.2C943.1,422 946,422.5 948.5,423C951,423.5 953.5,424.7 956,424.5C958.5,424.3 960.8,422.5 963.5,422C966.2,421.5 969.8,423.2 972.2,421.2C974.8,419.2 976.4,413.5 978.5,410C980.6,406.5 982.7,402.6 984.8,400C986.8,397.4 988.9,395.6 991,394.5C993.1,393.4 995.4,393 997.2,393.2C999.1,393.5 1000.6,393.9 1002.2,396.2C1003.9,398.6 1005.4,403.5 1007.2,407.5C1009.1,411.5 1011.2,417.9 1013.5,420C1015.8,422.1 1018.7,420 1021,420C1023.3,420 1025.6,419.2 1027.2,420C1028.9,420.8 1029.8,421.2 1031,425C1032.2,428.8 1033.5,436.7 1034.8,442.5C1036,448.3 1037.2,455.4 1038.5,460C1039.8,464.6 1040.6,467.1 1042.2,470C1043.9,472.9 1046.6,475.3 1048.5,477.5C1050.4,479.7 1051.6,482.4 1053.5,483C1055.4,483.6 1057.7,481.3 1059.8,481.2C1061.8,481.2 1063.9,482 1066,482.5C1068.1,483 1070.4,484.7 1072.2,484.5C1074.1,484.3 1075.6,483.7 1077.2,481.2C1078.9,478.8 1080.4,474 1082.2,470C1084.1,466 1086.4,461.7 1088.5,457.5C1090.6,453.3 1092.7,449 1094.8,445C1096.8,441 1098.9,437.5 1101,433.8C1103.1,430 1105.4,425.2 1107.2,422.5C1109.1,419.8 1110.4,417.9 1112.2,417.5C1114.1,417.1 1116.2,418.3 1118.5,420C1120.8,421.7 1123.7,425 1126,427.5C1128.3,430 1130.2,432.8 1132.2,435C1134.3,437.2 1136.2,440.1 1138.5,440.5C1140.8,440.9 1143.7,437.8 1146,437.5C1148.3,437.2 1150.2,438.3 1152.2,438.8C1154.3,439.2 1156.2,439.8 1158.5,440C1160.8,440.2 1163.7,442.1 1166,440C1168.3,437.9 1170.2,432.5 1172.2,427.5C1174.3,422.5 1176.6,415.8 1178.5,410C1180.4,404.2 1181.8,397.5 1183.5,392.5C1185.2,387.5 1186.6,382.9 1188.5,380C1190.4,377.1 1192.7,375.9 1194.8,375C1196.8,374.1 1198.9,374.9 1201,374.5C1203.1,374.1 1205.4,373.9 1207.2,372.5C1209.1,371.1 1210.4,367.7 1212.2,366.2C1214.1,364.8 1216.4,364.4 1218.5,363.8C1220.6,363.1 1222.7,361.5 1224.8,362.5C1226.8,363.5 1229.1,366.7 1231,370C1232.9,373.3 1234.3,378.3 1236,382.5C1237.7,386.7 1239.3,390.4 1241,395C1242.7,399.6 1244.3,405.4 1246,410C1247.7,414.6 1249.3,419.8 1251,422.5C1252.7,425.2 1254.1,425.8 1256,426.2C1257.9,426.7 1260.2,426.7 1262.2,425C1264.3,423.3 1266.2,418.2 1268.5,416.2C1270.8,414.2 1273.9,413.3 1276,413C1278.1,412.7 1279.3,414 1281,414.5C1282.7,415 1284.2,416.4 1286,416.2C1287.8,416.1 1290,413.9 1292,413.8C1294,413.6 1296.2,415.9 1298.2,415.5C1300.3,415.1 1302.2,411.8 1304.5,411.2C1306.8,410.7 1309.9,412.4 1312,412C1314.1,411.6 1315.1,409.5 1317,408.8C1318.9,408 1321.2,408.8 1323.2,407.5C1325.3,406.2 1327.6,402.5 1329.5,401.2C1331.4,400 1332.8,400 1334.5,400C1336.2,400 1337.6,400.2 1339.5,401.2C1341.4,402.3 1343.7,403.5 1345.8,406.2C1347.8,409 1349.9,414.2 1352,417.5C1354.1,420.8 1356.4,424.4 1358.2,426.2C1360.1,428.1 1361.4,429 1363.2,428.8C1365.1,428.5 1367.4,427.1 1369.5,425C1371.6,422.9 1373.7,419 1375.8,416.2C1377.8,413.5 1379.9,411.5 1382,408.8C1384.1,406 1386.2,403.5 1388.2,400C1390.3,396.5 1392.4,390.4 1394.5,387.5C1396.6,384.6 1398.7,383.1 1400.8,382.5C1402.8,381.9 1404.9,384.8 1407,383.8C1409.1,382.7 1411.2,379.6 1413.2,376.2C1415.3,372.9 1417.6,368.1 1419.5,363.8C1421.4,359.4 1422.8,353.5 1424.5,350C1426.2,346.5 1427.4,344.4 1429.5,342.5C1431.6,340.6 1434.7,339.2 1437,338.8C1439.3,338.2 1441.4,339.7 1443.2,339.5C1445.1,339.3 1446.4,337 1448.2,337.5C1450.1,338 1452.6,340.9 1454.5,342.5C1456.4,344.1 1457.6,346.2 1459.5,347C1461.4,347.8 1463.9,346 1465.8,347.5C1467.6,349 1469.1,353.8 1470.8,356.2C1472.4,358.8 1473.9,361 1475.8,362.5C1477.6,364 1480.1,364.4 1482,365C1483.9,365.6 1485.3,366.9 1487,366.2C1488.7,365.6 1490.3,363.3 1492,361.2C1493.7,359.2 1494.9,355.6 1497,353.8C1499.1,351.9 1502.4,351.8 1504.5,350C1506.6,348.2 1507.8,343.7 1509.5,343.2C1511.2,342.8 1512.6,345.8 1514.5,347.5C1516.4,349.2 1518.5,351.9 1520.8,353.8C1523,355.6 1526,356.7 1528.2,358.8C1530.5,360.8 1532.6,364 1534.5,366.2C1536.4,368.5 1537.4,371 1539.5,372.5C1541.6,374 1544.5,374.2 1547,375.5C1549.5,376.8 1552.4,377.4 1554.5,380C1556.6,382.6 1557.8,387.5 1559.5,391.2C1561.2,395 1562.8,399.6 1564.5,402.5C1566.2,405.4 1567.4,407.8 1569.5,408.8C1571.6,409.7 1574.7,407.6 1577,408C1579.3,408.4 1581.2,409.9 1583.2,411.2C1585.3,412.6 1587.4,414.6 1589.5,416.2C1591.6,417.9 1593.7,420.2 1595.8,421.2C1597.8,422.3 1600.1,423.1 1602,422.5C1603.9,421.9 1605.1,420 1607,417.5C1608.9,415 1611.2,410.6 1613.2,407.5C1615.3,404.4 1617.4,401.5 1619.5,398.8C1621.6,396 1623.9,391.7 1625.8,391.2C1627.6,390.8 1628.9,394 1630.8,396.2C1632.6,398.5 1634.9,402.7 1637,405C1639.1,407.3 1641.2,408.5 1643.2,410C1645.3,411.5 1647.4,413.8 1649.5,413.8C1651.6,413.8 1653.9,412.1 1655.8,410C1657.6,407.9 1658.9,403.5 1660.8,401.2C1662.6,399 1664.3,397.1 1667,396.2C1669.7,395.4 1674.3,395.6 1677,396.2C1679.7,396.9 1681.2,398.5 1683.2,400C1685.3,401.5 1687.2,404 1689.5,405C1691.8,406 1694.5,406 1697,406.2C1699.5,406.5 1702,406.7 1704.5,406.2C1707,405.8 1709.7,403.3 1712,403.8C1714.3,404.2 1716,406.9 1718.2,408.8C1720.5,410.6 1723.5,414.8 1725.8,415C1728,415.2 1729.9,411.9 1732,410C1734.1,408.1 1736.2,405.1 1738.2,403.8C1740.3,402.4 1742.2,402.2 1744.5,402C1746.8,401.8 1749.7,402 1752,402.5C1754.3,403 1756.4,405.2 1758.2,405C1760.1,404.8 1761.4,402.9 1763.2,401.2C1765.1,399.6 1767.4,397.2 1769.5,395C1771.6,392.8 1773.7,389.5 1775.8,388C1777.8,386.5 1779.9,387.4 1782,386.2C1784.1,385.1 1786.4,382.5 1788.2,381.2C1790.1,380 1791.4,379 1793.2,378.8C1795.1,378.5 1797.4,380.4 1799.5,380C1801.6,379.6 1803.7,377.6 1805.8,376.2C1807.8,374.9 1810,373 1812,372C1814,371 1815.8,371 1818,370C1820.2,369 1823,368.5 1825.5,366.2C1828,364 1830.5,359.6 1833,356.2C1835.5,352.9 1838,349.2 1840.5,346.2C1843,343.3 1845.7,340.6 1848,338.8C1850.3,336.9 1852.2,337.3 1854.2,335C1856.3,332.7 1858.4,327.6 1860.5,325C1862.6,322.4 1864.7,319.7 1866.8,319.5C1868.8,319.3 1870.7,322.8 1873,323.8C1875.3,324.7 1878,324.5 1880.5,325C1883,325.5 1885.7,326 1888,327C1890.3,328 1892.4,329.1 1894.2,331.2C1896.1,333.4 1897.6,337.7 1899.2,340C1900.9,342.3 1902.6,344 1904.2,345C1905.9,346 1907.4,344.8 1909.2,346.2C1911.1,347.7 1913.2,351.9 1915.5,353.8C1917.8,355.6 1920.7,356.5 1923,357.5C1925.3,358.5 1927.2,358.9 1929.2,359.5C1931.3,360.1 1933.4,359.7 1935.5,361.2C1937.6,362.8 1939.9,365.6 1941.8,368.8C1943.6,371.9 1945.1,377.1 1946.8,380C1948.4,382.9 1949.7,385.8 1951.8,386.2C1953.8,386.7 1957,382.1 1959.2,382.5C1961.5,382.9 1963.4,386.9 1965.5,388.8C1967.6,390.6 1969.7,392.3 1971.8,393.8C1973.8,395.2 1975.9,396 1978,397.5C1980.1,399 1982.2,401.5 1984.2,402.5C1986.3,403.5 1988.4,403.3 1990.5,403.8C1992.6,404.2 1994.5,405.2 1996.8,405C1999,404.8 2002,404.2 2004.2,402.5C2006.5,400.8 2008.6,397.1 2010.5,395C2012.4,392.9 2013.6,391.7 2015.5,390C2017.4,388.3 2019.7,386.5 2021.8,385C2023.8,383.5 2026.1,383.8 2028,381.2C2029.9,378.8 2031.3,373.8 2033,370C2034.7,366.2 2036.1,362.1 2038,358.8C2039.9,355.4 2042.2,352.7 2044.2,350C2046.3,347.3 2048.4,344.6 2050.5,342.5C2052.6,340.4 2054.7,338.8 2056.8,337.5C2058.8,336.2 2060.7,335.1 2063,334.5C2065.3,333.9 2068,333.9 2070.5,333.8C2073,333.6 2075.9,334.5 2078,333.8C2080.1,333 2081.3,330.5 2083,329.5C2084.7,328.5 2086.3,327.1 2088,328C2089.7,328.9 2091.5,332.2 2093,335C2094.5,337.8 2095.1,342.9 2096.8,345C2098.4,347.1 2100.9,346.9 2103,347.5C2105.1,348.1 2107.2,347.7 2109.2,348.8C2111.3,349.8 2113.4,352.3 2115.5,353.8C2117.6,355.2 2119.5,357 2121.8,357.5C2124,358 2127,356.8 2129.2,357C2131.5,357.2 2133.4,357.4 2135.5,358.8C2137.6,360.1 2139.7,363.3 2141.8,365C2143.8,366.7 2145.9,367.9 2148,368.8C2150.1,369.6 2152.2,370.2 2154.2,370C2156.3,369.8 2158.4,368 2160.5,367.5C2162.6,367 2164.7,366.6 2166.8,367C2168.8,367.4 2170.9,369.1 2173,370C2175.1,370.9 2177.2,371 2179.2,372.5C2181.3,374 2183.4,376.5 2185.5,378.8C2187.6,381 2189.7,384 2191.8,386.2C2193.8,388.5 2195.9,391.1 2198,392.5C2200.1,393.9 2202.4,393.9 2204.2,394.5C2206.1,395.1 2207.4,396.8 2209.2,396.2C2211.1,395.7 2213.4,392 2215.5,391.2C2217.6,390.5 2219.9,392.6 2221.8,392C2223.6,391.4 2225.1,390.3 2226.8,387.5C2228.4,384.7 2230.1,379.6 2231.8,375C2233.4,370.4 2235.1,365.4 2236.8,360C2238.4,354.6 2240.1,348.1 2241.8,342.5C2243.4,336.9 2245.1,331.5 2246.8,326.2C2248.4,321 2250.1,315.2 2251.8,311.2C2253.4,307.3 2254.9,304.6 2256.8,302.5C2258.6,300.4 2260.7,300 2263,298.8C2265.3,297.5 2268.2,296.1 2270.5,295C2272.8,293.9 2274.9,292 2276.8,292C2278.6,292 2279.9,293 2281.8,295C2283.6,297 2285.9,301.7 2288,303.8C2290.1,305.8 2292.4,305.2 2294.2,307.5C2296.1,309.8 2297.6,313.8 2299.2,317.5C2300.9,321.2 2302.6,326.7 2304.2,330C2305.9,333.3 2307.6,335.8 2309.2,337.5C2310.9,339.2 2312.8,339.6 2314.2,340C2315.7,340.4 2317.4,340 2318,340" stroke="#000000"/>
<path d="M247.6,1358L250.1,1379L251.6,1393L253,1408L254.2,1421.6L258.8,1474L260.4,1492L261.5,1500.3L262.5,1497L264.2,1478L265.7,1459L267,1440L267.7,1425L268.4,1412L270.2,1374L271.8,1336L273.7,1298L275.5,1260L277.5,1209L279.2,1171L281.1,1133L282.8,1095L284.9,1044L286.8,1006L288.7,968L290.8,930L292.3,879L294.4,841L297.3,803L300.6,765C301.4,754.9 301.3,751.1 301.9,742.6C302.5,734.1 303.4,723.6 304.3,714.1C305.2,704.6 306,695.1 307.5,685.6C309,676.1 311.3,666.5 313.2,657C315.1,647.5 316.9,637.2 318.7,628.5C320.5,619.8 322.3,612.2 324.1,605C325.9,597.8 327.5,590.5 329.4,585C331.2,579.5 333.6,575.7 335.2,572.1C336.8,568.5 337.7,565.8 339,563.6C340.3,561.4 341.6,560.5 343.2,558.8C344.8,557 347,555.5 348.9,553.1C350.8,550.7 352.7,547.4 354.6,544.6C356.5,541.8 358.6,538.9 360.3,536.5C362.1,534.1 363.5,531.3 365.1,530.3C366.7,529.3 368.2,529.5 369.8,530.3C371.4,531.1 373,533.6 374.6,535.1C376.2,536.6 377.6,537.9 379.4,539.3C381.2,540.7 383.6,543.5 385.5,543.6C387.4,543.7 389.4,542 390.8,539.8C392.2,537.6 392.8,534.3 393.6,530.3C394.4,526.3 394.7,520.8 395.5,516C396.3,511.2 397.4,506.6 398.4,501.8C399.3,497.1 400.2,491.9 401.2,487.5C402.2,483.1 403.2,478.9 404.5,475.2C405.8,471.5 407.3,468 408.8,465.2C410.3,462.4 412,459.5 413.6,458.1C415.2,456.8 416.4,456.7 418.3,457.1C420.2,457.5 422.9,459.2 425,460.5C427.1,461.8 429.1,464.8 431,465C432.9,465.2 434.5,462.7 436.4,461.5C438.2,460.3 440.2,458.9 442.1,457.6C444,456.3 445.9,455.2 447.8,453.8C449.7,452.4 451.3,449.8 453.5,449C455.7,448.2 458.7,449.2 461.1,449C463.5,448.8 465.6,448.5 467.8,447.6C470,446.7 472,445 474.4,443.8C476.8,442.6 479.8,442.4 482,440.5C484.2,438.6 485.8,434.9 487.5,432.5C489.2,430.1 490.8,426.7 492.5,426.2C494.2,425.8 495.6,428.8 497.5,430C499.4,431.2 501.7,434.2 503.8,433.8C505.8,433.3 507.9,431.5 510,427.5C512.1,423.5 514.2,415 516.2,410C518.3,405 520.4,401 522.5,397.5C524.6,394 526.7,390.6 528.8,388.8C530.8,386.9 532.3,386.7 535,386.2C537.7,385.8 542.1,387.1 545,386.2C547.9,385.4 550.2,383.5 552.5,381.2C554.8,379 556.7,374 558.8,372.5C560.8,371 562.7,371.4 565,372C567.3,372.6 570,373.7 572.5,376.2C575,378.8 577.5,383.5 580,387.5C582.5,391.5 585,397.1 587.5,400C590,402.9 592.5,404 595,405C597.5,406 600.4,405.6 602.5,406.2C604.6,406.9 605.4,408.8 607.5,408.8C609.6,408.8 612.1,406.9 615,406.2C617.9,405.6 622.3,405.4 625,405C627.7,404.6 629.4,405.4 631.2,403.8C633.1,402.1 634.4,399.4 636.2,395C638.1,390.6 640.4,382.5 642.5,377.5C644.6,372.5 646.2,368.3 648.8,365C651.2,361.7 654.4,360.2 657.5,357.5C660.6,354.8 663.3,350.3 667.5,348.8C671.7,347.2 677.9,348.2 682.5,348C687.1,347.8 691.7,346.8 695,347.5C698.3,348.2 700,351.5 702.5,352.5C705,353.5 707.5,354.2 710,353.8C712.5,353.3 715,351 717.5,350C720,349 722.5,348.1 725,347.5C727.5,346.9 730,347.1 732.5,346.2C735,345.4 737.7,344.2 740,342.5C742.3,340.8 744.2,337.4 746.2,336.2C748.3,335.1 750.2,334.5 752.5,335.5C754.8,336.5 757.8,340.3 760,342.5C762.2,344.7 763.8,345.4 766,348.8C768.2,352.1 771.2,357.7 773.5,362.5C775.8,367.3 777.9,372.9 779.8,377.5C781.6,382.1 782.5,385.4 784.8,390C787,394.6 791,400.4 793.5,405C796,409.6 797.7,413.8 799.8,417.5C801.8,421.2 803.9,424.6 806,427.5C808.1,430.4 810.4,433.3 812.2,435C814.1,436.7 815,437.4 817.2,437.5C819.5,437.6 823.3,435.5 826,435.5C828.7,435.5 831,436.8 833.5,437.5C836,438.2 837.9,438.9 841,439.5C844.1,440.1 848.7,440.5 852.2,441.2C855.8,442 859.5,443.8 862.2,443.8C865,443.8 866.4,441.7 868.5,441.2C870.6,440.8 872.7,440 874.8,441.2C876.8,442.5 878.9,445.8 881,448.8C883.1,451.7 885.2,455.8 887.2,458.8C889.3,461.7 891.2,464.6 893.5,466.2C895.8,467.9 898.7,468.3 901,468.8C903.3,469.2 905.2,469.2 907.2,468.8C909.3,468.3 911.2,465.8 913.5,466.2C915.8,466.7 918.7,471.5 921,471.2C923.3,471 925.2,466.9 927.2,465C929.3,463.1 931.6,461.7 933.5,460C935.4,458.3 937,457.5 938.5,455C940,452.5 940.8,447.9 942.2,445C943.7,442.1 945.6,439.4 947.2,437.5C948.9,435.6 950.2,434.2 952.2,433.8C954.3,433.3 957.5,434.6 959.8,435C962,435.4 963.7,436.2 966,436.2C968.3,436.2 971,436 973.5,435C976,434 978.1,432.1 981,430C983.9,427.9 988.1,423.8 991,422.5C993.9,421.2 996,422.3 998.5,422.5C1001,422.7 1003.7,424 1006,423.8C1008.3,423.5 1010.2,423.1 1012.2,421.2C1014.3,419.4 1016.2,415.8 1018.5,412.5C1020.8,409.2 1023.5,404 1026,401.2C1028.5,398.5 1031,397.9 1033.5,396.2C1036,394.6 1038.5,391.8 1041,391.2C1043.5,390.7 1046.4,392.6 1048.5,393C1050.6,393.4 1051.8,394.5 1053.5,393.8C1055.2,393 1056.8,389.8 1058.5,388.8C1060.2,387.7 1061.6,386.9 1063.5,387.5C1065.4,388.1 1067.7,390.4 1069.8,392.5C1071.8,394.6 1073.9,397.5 1076,400C1078.1,402.5 1080.4,406.2 1082.2,407.5C1084.1,408.8 1085.4,408.5 1087.2,407.5C1089.1,406.5 1091.2,403.8 1093.5,401.2C1095.8,398.8 1098.7,395 1101,392.5C1103.3,390 1105.2,387.2 1107.2,386.2C1109.3,385.3 1111.4,386.8 1113.5,387C1115.6,387.2 1117.7,387.8 1119.8,387.5C1121.8,387.2 1123.7,385.5 1126,385.5C1128.3,385.5 1131,386.4 1133.5,387.5C1136,388.6 1138.9,391 1141,392C1143.1,393 1144.3,392 1146,393.8C1147.7,395.5 1149.5,398.5 1151,402.5C1152.5,406.5 1153.5,412.5 1154.8,417.5C1156,422.5 1157,427.9 1158.5,432.5C1160,437.1 1161.6,442.5 1163.5,445C1165.4,447.5 1167.9,446.7 1169.8,447.5C1171.6,448.3 1173.1,447.7 1174.8,450C1176.4,452.3 1177.7,457.7 1179.8,461.2C1181.8,464.8 1184.8,467.9 1187.2,471.2C1189.8,474.6 1192.5,478.3 1194.8,481.2C1197,484.2 1198.7,486.7 1201,488.8C1203.3,490.8 1206.2,492.4 1208.5,493.8C1210.8,495.1 1212.7,496.4 1214.8,497C1216.8,497.6 1219.1,496.4 1221,497.5C1222.9,498.6 1224.1,501.5 1226,503.8C1227.9,506 1230.2,509.5 1232.2,511.2C1234.3,513 1236.6,513.9 1238.5,514.5C1240.4,515.1 1241.8,514.5 1243.5,515C1245.2,515.5 1246.6,517.7 1248.5,517.5C1250.4,517.3 1252.7,514.7 1254.8,513.8C1256.8,512.8 1259.1,512.2 1261,512C1262.9,511.8 1264.3,512.3 1266,512.5C1267.7,512.7 1269.3,513.6 1271,513C1272.7,512.4 1274.3,510.3 1276,508.8C1277.7,507.2 1279.3,506 1281,503.8C1282.7,501.5 1284.5,499.4 1286,495C1287.5,490.6 1288.1,482.5 1289.8,477.5C1291.4,472.5 1293.9,470.4 1295.8,465C1297.6,459.6 1299.1,449.9 1300.8,445C1302.4,440.1 1303.9,437.2 1305.8,435.5C1307.6,433.8 1310.1,435 1312,434.5C1313.9,434 1315.1,434.5 1317,432.5C1318.9,430.5 1321.2,425.8 1323.2,422.5C1325.3,419.2 1327.2,416 1329.5,412.5C1331.8,409 1334.5,404.8 1337,401.2C1339.5,397.7 1342.2,394.6 1344.5,391.2C1346.8,387.9 1348.9,383.4 1350.8,381.2C1352.6,379.1 1353.5,378.7 1355.8,378.2C1358,377.8 1361.4,378.5 1364.5,378.8C1367.6,379 1372,378.5 1374.5,379.5C1377,380.5 1377.8,382.6 1379.5,385C1381.2,387.4 1382.4,391.2 1384.5,393.8C1386.6,396.2 1389.9,398.5 1392,400C1394.1,401.5 1395.1,402.1 1397,402.5C1398.9,402.9 1401.2,401.5 1403.2,402.5C1405.3,403.5 1407.4,406.5 1409.5,408.8C1411.6,411 1413.7,414.4 1415.8,416.2C1417.8,418.1 1419.9,418.3 1422,420C1424.1,421.7 1426.4,423.3 1428.2,426.2C1430.1,429.2 1431.6,433.8 1433.2,437.5C1434.9,441.2 1436.8,445.4 1438.2,448.8C1439.7,452.1 1440.8,455.8 1442,457.5C1443.2,459.2 1444.3,459.6 1445.8,458.8C1447.2,457.9 1449.1,454.4 1450.8,452.5C1452.4,450.6 1453,448.4 1455.8,447.5C1458.5,446.6 1464.3,446.2 1467,447C1469.7,447.8 1470.1,450.1 1472,452.5C1473.9,454.9 1476,458.5 1478.2,461.2C1480.5,464 1483.5,466.5 1485.8,468.8C1488,471 1490.3,474 1492,475C1493.7,476 1494.5,475.6 1495.8,475C1497,474.4 1498,472.3 1499.5,471.2C1501,470.2 1502.6,468.5 1504.5,468.8C1506.4,469 1508.9,471.7 1510.8,472.5C1512.6,473.3 1514.1,474.4 1515.8,473.8C1517.4,473.1 1519.1,470.2 1520.8,468.8C1522.4,467.3 1523.9,464.8 1525.8,465C1527.6,465.2 1529.9,468.1 1532,470C1534.1,471.9 1536.2,474.2 1538.2,476.2C1540.3,478.3 1542.2,480.5 1544.5,482.5C1546.8,484.5 1549.5,486.3 1552,488C1554.5,489.7 1557.2,491.3 1559.5,492.5C1561.8,493.7 1563.2,494.8 1565.8,495C1568.2,495.2 1571.8,494.2 1574.5,493.8C1577.2,493.2 1579.7,492.8 1582,492C1584.3,491.2 1586.2,490.5 1588.2,488.8C1590.3,487 1592,483.8 1594.5,481.2C1597,478.8 1600.8,476.2 1603.2,473.8C1605.8,471.2 1607.4,469 1609.5,466.2C1611.6,463.5 1613.7,460.2 1615.8,457.5C1617.8,454.8 1619.9,452.9 1622,450C1624.1,447.1 1626.2,443.3 1628.2,440C1630.3,436.7 1632.6,432.3 1634.5,430C1636.4,427.7 1637.8,427.1 1639.5,426.2C1641.2,425.4 1642.8,426 1644.5,425C1646.2,424 1647.6,420.4 1649.5,420C1651.4,419.6 1653.5,421.7 1655.8,422.5C1658,423.3 1660.8,425 1663.2,425C1665.8,425 1668.2,423.5 1670.8,422.5C1673.2,421.5 1675.8,419.9 1678.2,418.8C1680.8,417.6 1683.5,416.5 1685.8,415.5C1688,414.5 1689.9,412.9 1692,412.5C1694.1,412.1 1696.2,411.5 1698.2,413C1700.3,414.5 1702.2,418.4 1704.5,421.2C1706.8,424.1 1709.5,427.1 1712,430C1714.5,432.9 1717,435.6 1719.5,438.8C1722,441.9 1724.9,445 1727,448.8C1729.1,452.5 1730.3,457.7 1732,461.2C1733.7,464.8 1734.9,468.3 1737,470C1739.1,471.7 1742,470 1744.5,471.2C1747,472.5 1749.3,476 1752,477.5C1754.7,479 1758.2,478.5 1760.8,480C1763.2,481.5 1765.3,482.9 1767,486.2C1768.7,489.6 1769.5,495.6 1770.8,500C1772,504.4 1772.8,509.2 1774.5,512.5C1776.2,515.8 1778.5,518.1 1780.8,520C1783,521.9 1786.2,523.1 1788.2,523.8C1790.3,524.4 1791.4,522.9 1793.2,523.8C1795.1,524.6 1797.4,526.8 1799.5,528.8C1801.6,530.7 1804.1,534.2 1805.8,535.5C1807.4,536.8 1808,536.8 1809.5,536.2C1811,535.8 1813.1,533.3 1814.5,532.5C1815.9,531.7 1816,532.7 1818,531.2C1820,529.8 1824,525.8 1826.8,523.8C1829.5,521.7 1832.2,521.5 1834.2,518.8C1836.3,516 1837.6,511.7 1839.2,507.5C1840.9,503.3 1842.6,497.7 1844.2,493.8C1845.9,489.8 1847.4,486.7 1849.2,483.8C1851.1,480.8 1853.6,478.5 1855.5,476.2C1857.4,474 1858.4,470.4 1860.5,470C1862.6,469.6 1865.5,472.7 1868,473.8C1870.5,474.8 1873,475.4 1875.5,476.2C1878,477.1 1880.7,479 1883,478.8C1885.3,478.5 1887.4,476 1889.2,475C1891.1,474 1892.6,472.1 1894.2,472.5C1895.9,472.9 1897.2,475.4 1899.2,477.5C1901.3,479.6 1904.2,483.4 1906.8,485C1909.2,486.6 1911.8,486.4 1914.2,487C1916.8,487.6 1919.5,488.3 1921.8,488.8C1924,489.2 1925.7,489.7 1928,489.5C1930.3,489.3 1933.2,488.8 1935.5,487.5C1937.8,486.2 1939.7,483.8 1941.8,482C1943.8,480.2 1945.9,476.5 1948,477C1950.1,477.5 1952.2,482.8 1954.2,485C1956.3,487.2 1958.4,489.2 1960.5,490C1962.6,490.8 1964.7,490.2 1966.8,490C1968.8,489.8 1970.7,487.5 1973,488.8C1975.3,490 1978,494.8 1980.5,497.5C1983,500.2 1985.7,503.1 1988,505C1990.3,506.9 1992.4,507.9 1994.2,508.8C1996.1,509.6 1997.6,510.8 1999.2,510C2000.9,509.2 2002.4,506.2 2004.2,503.8C2006.1,501.2 2008.6,497.3 2010.5,495C2012.4,492.7 2013.6,490.2 2015.5,490C2017.4,489.8 2019.9,491.7 2021.8,493.8C2023.6,495.8 2025.1,499 2026.8,502.5C2028.4,506 2029.9,511.7 2031.8,515C2033.6,518.3 2035.7,520.4 2038,522.5C2040.3,524.6 2043.2,527.7 2045.5,527.5C2047.8,527.3 2049.5,522.8 2051.8,521.2C2054,519.7 2056.8,519.1 2059.2,518C2061.8,516.9 2064.2,515.8 2066.8,514.5C2069.2,513.2 2071.5,511.2 2074.2,510.5C2077,509.8 2080.3,509.8 2083,510C2085.7,510.2 2088,511.2 2090.5,512C2093,512.8 2095.5,514 2098,514.5C2100.5,515 2102.8,514.2 2105.5,515C2108.2,515.8 2111.5,518.9 2114.2,519.5C2117,520.1 2119,518.9 2121.8,518.8C2124.5,518.6 2127.6,518.5 2130.5,518.8C2133.4,519 2136.8,519 2139.2,520C2141.8,521 2143.4,522.7 2145.5,525C2147.6,527.3 2150.1,531 2151.8,533.8C2153.4,536.5 2153.8,539.6 2155.5,541.2C2157.2,542.9 2159.2,543.5 2161.8,543.8C2164.2,544 2167.4,543.5 2170.5,543C2173.6,542.5 2177.2,541.1 2180.5,540.5C2183.8,539.9 2187.6,540.4 2190.5,539.5C2193.4,538.6 2195.3,536.6 2198,535C2200.7,533.4 2204.2,531.7 2206.8,530C2209.2,528.3 2210.9,527.1 2213,525C2215.1,522.9 2217.2,519.6 2219.2,517.5C2221.3,515.4 2223.6,515 2225.5,512.5C2227.4,510 2228.8,505 2230.5,502.5C2232.2,500 2233.6,498.2 2235.5,497.5C2237.4,496.8 2239.7,497.6 2241.8,498C2243.8,498.4 2245.9,500.3 2248,500C2250.1,499.7 2252.2,495.8 2254.2,496.2C2256.3,496.7 2258.4,500.4 2260.5,502.5C2262.6,504.6 2264.7,508.1 2266.8,508.8C2268.8,509.4 2270.7,507.5 2273,506.2C2275.3,505 2278,503.3 2280.5,501.2C2283,499.2 2285.5,496.5 2288,493.8C2290.5,491 2293,487.3 2295.5,485C2298,482.7 2300.5,481.6 2303,480C2305.5,478.4 2308,477.2 2310.5,475.5C2313,473.8 2316.8,470.9 2318,470" stroke="#bf00bf"/>
</g>
<g fill="#000" shape-rendering="crispEdges">
<rect x="245" y="137" width="6" height="1616"/>
<rect x="2315" y="137" width="6" height="1616"/>
<rect x="245" y="137" width="2076" height="5"/>
<rect x="245" y="1748" width="2076" height="5"/>
</g>
<rect x="1278.6" y="1272.4" width="1002.1" height="440.8" rx="11" ry="11" fill="#fff" fill-opacity="0.8" stroke="#cccccc" stroke-opacity="0.8" stroke-width="6.6"/>
<g shape-rendering="crispEdges">
<rect x="1302" y="1322" width="160" height="12" fill="#ff0000"/>
<rect x="1302" y="1427" width="160" height="12" fill="#0000ff"/>
<rect x="1302" y="1531.5" width="160" height="12" fill="#000000"/>
<rect x="1302" y="1636" width="160" height="12" fill="#bf00bf"/>
</g>
<g font-family="'Liberation Serif',serif" font-size="75" letter-spacing="-0.5" fill="#000" stroke="#000" stroke-width="1.2" stroke-linejoin="round">
<text x="1514.4" y="1354.4">gamma=0.9&amp;lr=0.0001</text>
<text x="1514.4" y="1458.9">gamma=0.99&amp;lr=0.001</text>
<text x="1514.4" y="1563.4">gamma=0.9&amp;lr=0.001</text>
<text x="1514.4" y="1667.9">gamma=0.99&amp;lr=0.0001</text>
</g>
<g font-family="'Liberation Serif',serif" font-size="75" letter-spacing="-0.5" fill="#000" stroke="#000" stroke-width="1.2" stroke-linejoin="round">
<text x="248.2" y="1821.7" text-anchor="middle">0</text>
<text x="524.2" y="1821.7" text-anchor="middle">200</text>
<text x="800.2" y="1821.7" text-anchor="middle">400</text>
<text x="1076.2" y="1821.7" text-anchor="middle">600</text>
<text x="1352.2" y="1821.7" text-anchor="middle">800</text>
<text x="1628.2" y="1821.7" text-anchor="middle">1000</text>
<text x="1904.2" y="1821.7" text-anchor="middle">1200</text>
<text x="2180.2" y="1821.7" text-anchor="middle">1400</text>
<text x="227.9" y="1745.0" text-anchor="end">0</text>
<text x="227.9" y="1461.4" text-anchor="end">100</text>
<text x="227.9" y="1177.8" text-anchor="end">200</text>
<text x="227.9" y="894.2" text-anchor="end">300</text>
<text x="227.9" y="610.6" text-anchor="end">400</text>
<text x="227.9" y="327.0" text-anchor="end">500</text>
<text x="377.5" y="103.7" stroke-width="0.2">×</text>
<text x="419.6" y="103.7">10</text>
<text x="494" y="76" font-family="'DejaVu Sans',sans-serif" font-size="54" letter-spacing="0" stroke-width="1">3</text>
</g>
<g font-family="'Liberation Serif',serif" font-weight="bold" font-size="70.8" fill="#000" stroke="#000" stroke-width="0.5">
<text x="1282.6" y="1908.6" text-anchor="middle">Episode</text>
<text transform="translate(79.5,944.4) rotate(-90)" text-anchor="middle">Reward</text>
</g>
</svg>
</body></html>
